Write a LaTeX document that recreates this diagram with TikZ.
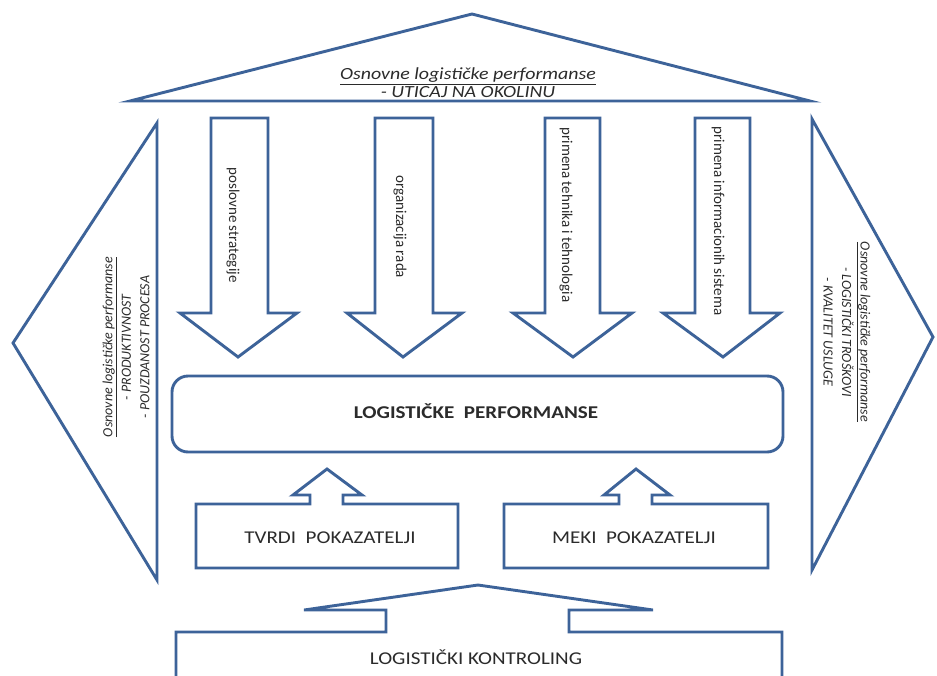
\documentclass[tikz,border=0pt]{standalone}
\usepackage{fontspec}
\setmainfont{Carlito}
\definecolor{shapeblue}{HTML}{3D6399}
\definecolor{inktext}{HTML}{2B2B2B}
\tikzset{
  outline/.style={draw=shapeblue, line width=2.9pt, line join=miter, fill=white},
  lbl/.style={text=inktext, inner sep=0pt, align=center},
  hlbl/.style={lbl, xscale=1.17},
  sidefont/.style={font=\fontsize{14}{18.5}\selectfont},
  arrowfont/.style={font=\fontsize{15}{17}\selectfont},
  boxfont/.style={font=\fontsize{18}{20}\selectfont},
}
\begin{document}
\begin{tikzpicture}[x=1pt,y=-1pt]
\clip (0,0) rectangle (937,675);
\fill[white] (0,0) rectangle (937,675);

% roof triangle and the two side triangles
\draw[outline] (130,101) -- (472,14) -- (810,101) -- cycle;
\draw[outline] (157,123) -- (13,343) -- (157,580) -- cycle;
\draw[outline] (812,119) -- (933,337) -- (812,570) -- cycle;

% four downward block arrows
\draw[outline] (211,118) -- (268,118) -- (268,313) -- (297,313) -- (238,357) -- (180,313) -- (211,313) -- cycle;
\draw[outline] (375,118) -- (433,118) -- (433,313) -- (462,313) -- (403,357) -- (347,313) -- (375,313) -- cycle;
\draw[outline] (545,118) -- (600,118) -- (600,313) -- (632,313) -- (573,357) -- (513,313) -- (545,313) -- cycle;
\draw[outline] (695,118) -- (750,118) -- (750,313) -- (780,313) -- (723,357) -- (663,313) -- (695,313) -- cycle;

% central rounded box
\draw[outline, rounded corners=16pt] (172,376) rectangle (783,452);

% indicator boxes with upward arrows
\draw[outline] (196,504) -- (310,504) -- (310,495) -- (293,495) -- (327,469) -- (362,495) -- (343,495) -- (343,504) -- (458,504) -- (458,568) -- (196,568) -- cycle;
\draw[outline] (504,504) -- (619,504) -- (619,495) -- (604,495) -- (636,469) -- (670,495) -- (652,495) -- (652,504) -- (768,504) -- (768,568) -- (504,568) -- cycle;

% controlling base with wide upward arrow
\draw[outline] (176,700) -- (176,632) -- (386,632) -- (386,610) -- (304,610) -- (478,585) -- (653,610) -- (569,610) -- (569,632) -- (782,632) -- (782,700) -- cycle;

% labels
\node[hlbl, font=\fontsize{17}{18}\selectfont] (roofText) at (468,83)
  {\underline{\textit{Osnovne logističke performanse}}\\\textit{- UTICAJ NA OKOLINU}};
\node[lbl, sidefont, rotate=90] (leftText) at (126,347)
  {\underline{\textit{Osnovne logističke performanse}}\\\textit{- PRODUKTIVNOST}\\\textit{- POUZDANOST PROCESA}};
\node[lbl, sidefont, rotate=-90] (rightText) at (847,332)
  {\underline{\textit{Osnovne logističke performanse}}\\\textit{- LOGISTIČKI TROŠKOVI}\\\textit{- KVALITET USLUGE}};

\node[lbl, arrowfont, rotate=-90] (strat) at (233,225) {poslovne strategije};
\node[lbl, arrowfont, rotate=-90] (org) at (400,227) {organizacija rada};
\node[lbl, arrowfont, rotate=-90] (tech) at (566,215) {primena tehnika i tehnologia};
\node[lbl, arrowfont, rotate=-90] (info) at (718,221) {primena informacionih sistema};

\node[hlbl, font=\fontsize{18}{20}\selectfont\bfseries] (perf) at (476,411) {LOGISTIČKE\ \ PERFORMANSE};
\node[hlbl, boxfont] (hard) at (330,538) {TVRDI\ \ POKAZATELJI};
\node[hlbl, boxfont] (soft) at (634,538) {MEKI\ \ POKAZATELJI};
\node[hlbl, boxfont] (ctrl) at (476,657) {LOGISTIČKI KONTROLING};
\end{tikzpicture}
\end{document}
